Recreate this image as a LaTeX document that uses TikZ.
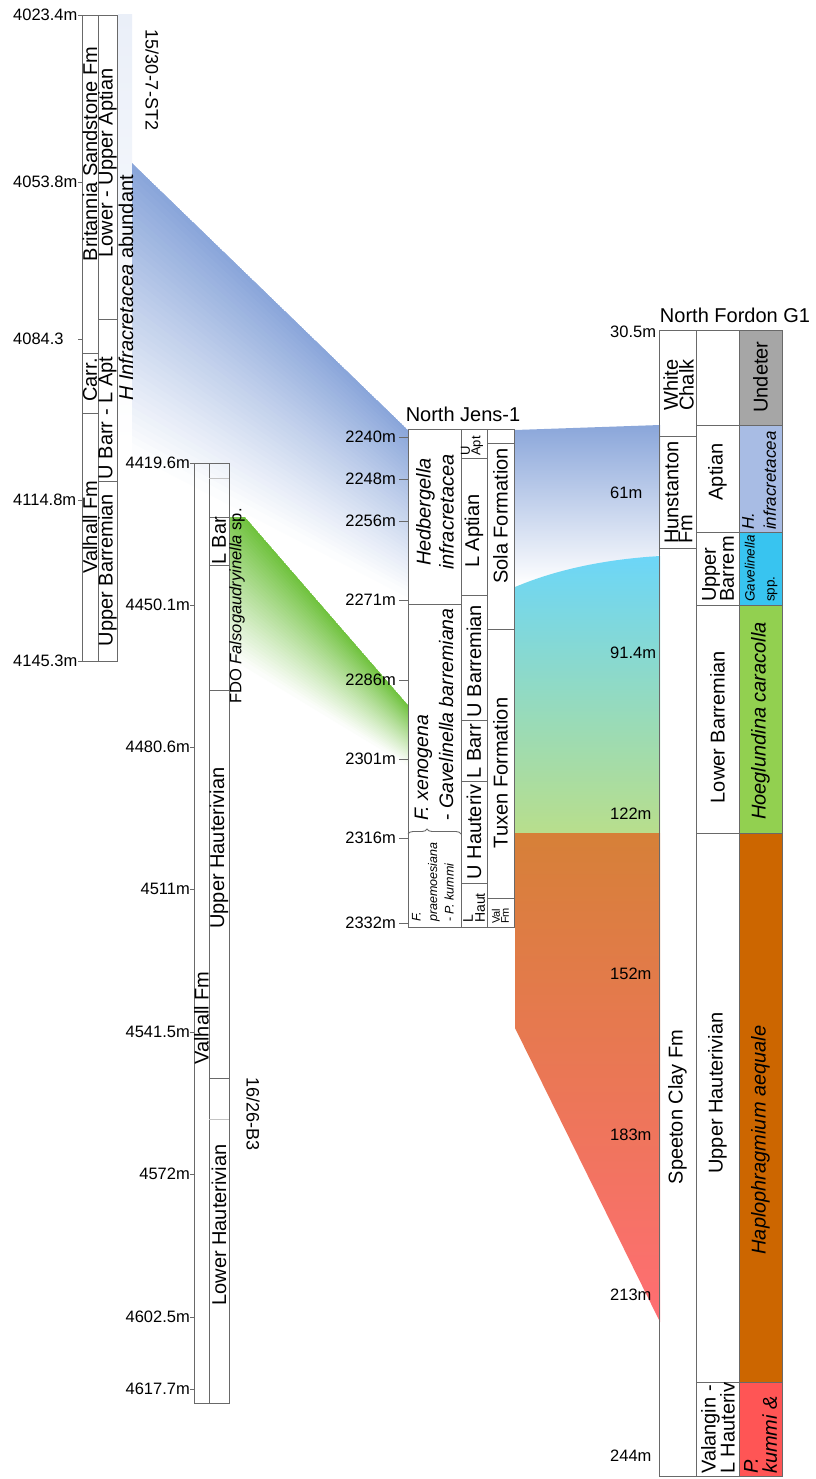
\documentclass[tikz,border=0pt]{standalone}
\usepackage{fontspec}
\setmainfont{Liberation Sans}
\usetikzlibrary{calc,decorations.pathreplacing}
\definecolor{bandblue}{RGB}{138,166,218}
\definecolor{bandgreen}{RGB}{112,194,62}
\definecolor{cyantop}{RGB}{108,214,248}
\definecolor{cyanmid}{RGB}{142,218,206}
\definecolor{greenbot}{RGB}{184,222,140}
\definecolor{orangetop}{RGB}{214,128,56}
\definecolor{redbot}{RGB}{255,110,115}
\definecolor{undet}{RGB}{166,166,166}
\definecolor{hinfra}{RGB}{168,188,228}
\definecolor{gavel}{RGB}{56,196,240}
\definecolor{hoeg}{RGB}{146,208,80}
\definecolor{haplo}{RGB}{204,102,0}
\definecolor{pkummi}{RGB}{255,85,85}
\definecolor{frame}{RGB}{105,105,105}
\definecolor{thin}{RGB}{195,195,195}
\begin{document}
\begin{tikzpicture}[x=1pt, y=-1pt,
  box/.style={draw=frame, line width=0.9pt},
  faint/.style={draw=thin, line width=0.9pt},
  tk/.style={draw=frame, line width=0.8pt},
  dep/.style={inner sep=0pt, font=\fontsize{16.5}{18}\selectfont},
  lab/.style={rotate=90, inner sep=0pt, font=\fontsize{20}{22}\selectfont},
  ttl/.style={inner sep=0pt, font=\fontsize{20}{22}\selectfont},
]
\useasboundingbox (0,0) rectangle (815,1479);
\fill[white] (0,0) rectangle (815,1479);

% ---------- correlation bands ----------
% faint strip beside well 1
\shade[top color=bandblue!18, middle color=bandblue!38, bottom color=white] (118,15) rectangle (132,445);
% blue band well 1 -> North Jens
\begin{scope}
\clip (132,163) -- (408,430) -- (408,640) -- (132,640) -- cycle;
\coordinate (bA) at (132,163); \coordinate (bB) at (408,430);
\coordinate (bD) at (132,450); \coordinate (bC) at (408,595);
\foreach \i in {0,...,39}{
  \pgfmathsetmacro\ta{\i/40}
  \pgfmathsetmacro\tb{(\i+1.6)/40}
  \pgfmathsetmacro\mix{100*(1-\ta)}
  \fill[bandblue!\mix!white] ($(bA)!\ta!(bD)$) -- ($(bB)!\ta!(bC)$) -- ($(bB)!\tb!(bC)$) -- ($(bA)!\tb!(bD)$) -- cycle;
}
\end{scope}
% green band well 2 -> North Jens
\begin{scope}
\clip (229,517) -- (245,517) -- (408,705) -- (408,800) -- (229,800) -- cycle;
\coordinate (gA) at (229,498.5); \coordinate (gB) at (408,705);
\coordinate (gD) at (229,655); \coordinate (gC) at (408,765);
\foreach \i in {0,...,39}{
  \pgfmathsetmacro\ta{\i/40}
  \pgfmathsetmacro\tb{(\i+1.6)/40}
  \pgfmathsetmacro\mix{100*(1-\ta)}
  \fill[bandgreen!\mix!white] ($(gA)!\ta!(gD)$) -- ($(gB)!\ta!(gC)$) -- ($(gB)!\tb!(gC)$) -- ($(gA)!\tb!(gD)$) -- cycle;
}
\end{scope}
% North Jens -> North Fordon
\shade[top color=bandblue, bottom color=white] (515,430) -- (660,425) -- (660,555) -- (515,585) -- cycle;
\shade[top color=cyantop, middle color=cyanmid, bottom color=greenbot]
  (515,587) .. controls (560,568) and (610,559) .. (660,556) -- (660,833) -- (515,833) -- cycle;
\shade[top color=orangetop, bottom color=redbot] (515,833) -- (660,833) -- (660,1322) -- (515,1028) -- cycle;

% ---------- well 15/30-7-ST2 ----------
\draw[box] (82,15) rectangle (98,661);
\draw[box] (98,15) rectangle (117,661);
\draw[box] (82,353) -- (98,353) (82,413) -- (98,413);
\draw[box] (98,319) -- (117,319) (98,481) -- (117,481);
\foreach \y/\t/\n in {15/4023.4m/a,182/4053.8m/b,339/4084.3/c,500/4114.8m/d,661/4145.3m/e}{
  \node[dep, anchor=west] (wa\n) at (13,\y) {\t};
  \draw[tk] (78,\y) -- (82,\y);
}
\node[lab] (wa1) at (90,154) {Britannia Sandstone Fm};
\node[lab] (wa2) at (90,380) {Carr.};
\node[lab] (wa3) at (90,527) {Valhall Fm};
\node[lab] (wa4) at (107.5,163) {Lower - Upper Aptian};
\node[lab] (wa5) at (107.5,418) {U Barr - L Apt};
\node[lab] (wa6) at (107.5,570) {Upper Barremian};
\node[lab] (wa7) at (126,288) {\textit{H Infracretacea} abundant};
\node[rotate=-90, inner sep=0pt, font=\fontsize{18}{20}\selectfont] (wat) at (152,80) {15/30-7-ST2};

% ---------- well 16/26-B3 ----------
\draw[box] (194,463) rectangle (209,1403);
\draw[box] (209,463) rectangle (229,1403);
\draw[faint] (209,478) -- (229,478) (209,1119) -- (229,1119);
\draw[box] (209,517) -- (229,517) (209,565) -- (229,565) (209,690) -- (229,690) (209,1078) -- (229,1078);
\foreach \y/\t/\n in {463/4419.6m/a,605/4450.1m/b,747/4480.6m/c,889/4511m/d,1032/4541.5m/e,1174/4572m/f,1317/4602.5m/g,1389/4617.7m/h}{
  \node[dep, anchor=east] (wb\n) at (190,\y) {\t};
  \draw[tk] (190,\y) -- (194,\y);
}
\node[lab] (wb1) at (201.5,1018) {Valhall Fm};
\node[lab] (wb2) at (219,541) {L Bar};
\node[lab] (wb3) at (219,848) {Upper Hauterivian};
\node[lab] (wb4) at (219,1225) {Lower Hauterivian};
\node[lab, font=\fontsize{16.5}{18}\selectfont] (wb5) at (237,606) {FDO \textit{Falsogaudryinella} sp.};
\node[rotate=-90, inner sep=0pt, font=\fontsize{18}{20}\selectfont] (wbt) at (253,1114) {16/26-B3};

% ---------- North Jens-1 ----------
\node[ttl] (njt) at (463,414) {North Jens-1};
\draw[box] (408,429) rectangle (461,927);
\draw[box] (461,429) rectangle (487,927);
\draw[box] (487,429) rectangle (514,927);
\draw[box] (408,604) -- (461,604);
\draw[box, decorate, decoration={brace, amplitude=5pt, aspect=0.36}] (408,834) -- (461,834);
\foreach \y in {458,595,720,781,883}{\draw[box] (461,\y) -- (487,\y);}
\foreach \y in {443,629,898}{\draw[box] (487,\y) -- (514,\y);}
\foreach \y/\t/\n in {437/2240m/a,479/2248m/b,521/2256m/c,600/2271m/d,680/2286m/e,759/2301m/f,838/2316m/g,923/2332m/h}{
  \node[dep, anchor=east] (nj\n) at (396,\y) {\t};
  \draw[tk] (399,\y) -- (408,\y);
}
\node[lab, align=center, font=\fontsize{20}{23}\selectfont] (nj1) at (435,512) {\textit{Hedbergella}\\\textit{infracretacea}};
\node[lab, align=left, anchor=west, font=\fontsize{19.5}{25}\selectfont] (nj2) at (434,821) {\textit{F. xenogena}\\- \textit{Gavelinella barremiana}};
\node[lab, align=left, anchor=west, font=\fontsize{12.5}{16.5}\selectfont] (nj3) at (433,922) {\textit{F.}\\\textit{praemoesiana}\\- \textit{P. kummi}};
\node[lab, align=left, anchor=west, font=\fontsize{13}{10.5}\selectfont] (nj4) at (472,456) {U\\Apt};
\node[lab] (nj5) at (474,531) {L Aptian};
\node[lab] (nj6) at (474,661) {U Barremian};
\node[lab] (nj7) at (474,751) {L Barr};
\node[lab] (nj8) at (474,832) {U Hauteriv};
\node[lab, align=left, anchor=west, font=\fontsize{14}{12}\selectfont] (nj9) at (474,923) {L\\Haut};
\node[lab] (nj10) at (500.5,516) {Sola Formation};
\node[lab] (nj11) at (500.5,773) {Tuxen Formation};
\node[lab, align=left, anchor=west, font=\fontsize{11}{9}\selectfont] (nj12) at (500.5,924) {Val\\Fm};

% ---------- North Fordon G1 ----------
\node[ttl] (nft) at (735,315) {North Fordon G1};
\fill[undet] (739,330) rectangle (782,425);
\fill[hinfra] (739,425) rectangle (782,532);
\fill[gavel] (739,532) rectangle (782,605);
\fill[hoeg] (739,605) rectangle (782,833);
\fill[haplo] (739,833) rectangle (782,1382);
\fill[pkummi] (739,1382) rectangle (782,1476);
\draw[box] (659,330) rectangle (696,1476);
\draw[box] (696,330) rectangle (739,1476);
\draw[box] (739,330) rectangle (782,1476);
\draw[box] (659,436) -- (696,436) (659,548) -- (696,548);
\foreach \y in {425,532,605,833,1382}{\draw[box] (696,\y) -- (782,\y);}
\foreach \y/\t/\n in {332/30.5m/a,493/61m/b,653/91.4m/c,814/122m/d,974/152m/e,1135/183m/f,1295/213m/g,1456/244m/h}{
  \node[dep, anchor=west] (nf\n) at (610,\y) {\t};
}
\node[lab, align=center, font=\fontsize{20}{14}\selectfont] (nf1) at (678.5,385) {White\\Chalk};
\node[lab, align=left, anchor=west, font=\fontsize{20}{14}\selectfont] (nf2) at (678.5,544) {Hunstanton\\Fm};
\node[lab] (nf3) at (677.5,1107) {Speeton Clay Fm};
\node[lab] (nf4) at (717.5,472) {Aptian};
\node[lab, align=left, anchor=west, font=\fontsize{20}{18}\selectfont] (nf5) at (718,602) {Upper\\Barrem};
\node[lab] (nf6) at (717.5,727) {Lower Barremian};
\node[lab] (nf7) at (717.5,1093) {Upper Hauterivian};
\node[lab, align=left, anchor=west, font=\fontsize{20}{19}\selectfont] (nf8) at (718,1474) {Valangin -\\L Hauteriv};
\node[lab] (nf9) at (760.5,377) {Undeter};
\node[lab, align=left, anchor=west, font=\fontsize{17}{22}\selectfont] (nf10) at (759,530) {\textit{H.}\\\textit{infracretacea}};
\node[lab, align=left, anchor=west, font=\fontsize{13.5}{20}\selectfont] (nf11) at (761,602) {\textit{Gavelinella}\\spp.};
\node[lab] (nf12) at (760.5,721) {\textit{Hoeglundina caracolla}};
\node[lab] (nf13) at (760.5,1140) {\textit{Haplophragmium aequale}};
\node[lab, align=left, anchor=west, font=\fontsize{20}{19}\selectfont] (nf14) at (760.5,1474) {\textit{P.}\\\textit{kummi \&}};
\end{tikzpicture}
\end{document}
